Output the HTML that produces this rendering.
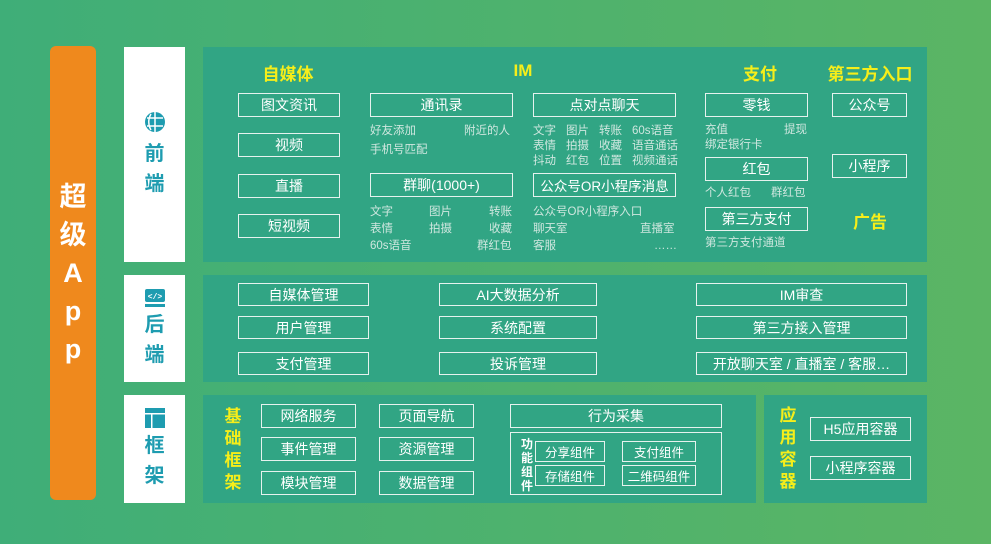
<!DOCTYPE html>
<html><head><meta charset="utf-8"><style>
*{margin:0;padding:0;box-sizing:border-box}
body{width:991px;height:544px;overflow:hidden;position:relative;background:linear-gradient(90deg,#3fae78,#5bb564);font-family:"Liberation Sans","Noto Sans CJK SC",sans-serif;}
.a{position:absolute}
.p{position:absolute;background:#31a584}
.b{position:absolute;border:1.5px solid #e6f2ee;color:#fff;font-size:14px;display:flex;align-items:center;justify-content:center;white-space:nowrap}
.s{position:absolute;color:#cfe7df;font-size:11.5px;white-space:nowrap;line-height:14px}
.y{position:absolute;color:#f6ee1a;font-size:17px;font-weight:bold;white-space:nowrap;transform:translateX(-50%)}
.w{position:absolute;background:#fff;left:124px;width:61px;display:flex;flex-direction:column;align-items:center;justify-content:center;color:#1e9cb0;font-size:20px;font-weight:bold;line-height:30px}
.v{position:absolute;color:#f6ee1a;font-size:17px;font-weight:bold;width:20px;text-align:center;line-height:22px}
</style></head><body>
<div class="a" style="left:50px;top:46px;width:46px;height:454px;background:#ef891d;border-radius:6px;color:#fff;font-size:27px;font-weight:bold;display:flex;flex-direction:column;align-items:center;justify-content:center;line-height:38px"><div>超</div><div>级</div><div>A</div><div>p</div><div>p</div></div>
<div class="w" style="top:47px;height:215px"><svg width="22" height="22" viewBox="0 0 22 22" style="margin-bottom:6px"><circle cx="11" cy="11" r="10" fill="#1e9cb0"/><path d="M11 1v20M3 7h16M3 15h16M7 3c-3 5-3 11 0 16" stroke="#fff" stroke-width="1.5" fill="none"/></svg><div>前</div><div>端</div></div>
<div class="w" style="top:275px;height:107px"><svg width="22" height="20" viewBox="0 0 22 20" style="margin-bottom:2px"><rect x="1" y="1" width="20" height="13" rx="2" fill="#1e9cb0"/><rect x="1" y="16" width="20" height="3" fill="#1e9cb0"/><text x="11" y="11" font-size="8" fill="#fff" text-anchor="middle" font-family="Liberation Mono">&lt;/&gt;</text></svg><div>后</div><div>端</div></div>
<div class="w" style="top:395px;height:108px"><svg width="22" height="22" viewBox="0 0 22 22" style="margin-bottom:2px"><rect x="1" y="1" width="20" height="20" fill="#1e9cb0"/><rect x="1" y="6" width="20" height="1.5" fill="#fff"/><rect x="7" y="6" width="1.5" height="15" fill="#fff"/></svg><div>框</div><div>架</div></div>

<div class="p" style="left:203px;top:47px;width:724px;height:215px"></div>
<div class="p" style="left:203px;top:275px;width:724px;height:107px"></div>
<div class="p" style="left:203px;top:395px;width:553px;height:108px"></div>
<div class="p" style="left:764px;top:395px;width:163px;height:108px"></div>

<div class="y" style="left:288px;top:60px">自媒体</div>
<div class="y" style="left:523px;top:61px">IM</div>
<div class="y" style="left:760px;top:60px">支付</div>
<div class="y" style="left:870px;top:60px">第三方入口</div>
<div class="y" style="left:870px;top:208px">广告</div>

<div class="b" style="left:238px;top:93px;width:102px;height:24px">图文资讯</div>
<div class="b" style="left:238px;top:133px;width:102px;height:24px">视频</div>
<div class="b" style="left:238px;top:174px;width:102px;height:24px">直播</div>
<div class="b" style="left:238px;top:214px;width:102px;height:24px">短视频</div>

<div class="b" style="left:370px;top:93px;width:143px;height:24px">通讯录</div>
<div class="s" style="left:370px;top:124px">好友添加</div><div class="s" style="left:464px;top:124px">附近的人</div>
<div class="s" style="left:370px;top:143px">手机号匹配</div>
<div class="b" style="left:370px;top:173px;width:143px;height:24px">群聊(1000+)</div>
<div class="s" style="left:370px;top:205px">文字</div><div class="s" style="left:429px;top:205px">图片</div><div class="s" style="left:489px;top:205px">转账</div>
<div class="s" style="left:370px;top:222px">表情</div><div class="s" style="left:429px;top:222px">拍摄</div><div class="s" style="left:489px;top:222px">收藏</div>
<div class="s" style="left:370px;top:239px">60s语音</div><div class="s" style="left:477px;top:239px">群红包</div>

<div class="b" style="left:533px;top:93px;width:143px;height:24px">点对点聊天</div>
<div class="s" style="left:533px;top:124px">文字</div><div class="s" style="left:566px;top:124px">图片</div><div class="s" style="left:599px;top:124px">转账</div><div class="s" style="left:632px;top:124px">60s语音</div>
<div class="s" style="left:533px;top:139px">表情</div><div class="s" style="left:566px;top:139px">拍摄</div><div class="s" style="left:599px;top:139px">收藏</div><div class="s" style="left:632px;top:139px">语音通话</div>
<div class="s" style="left:533px;top:154px">抖动</div><div class="s" style="left:566px;top:154px">红包</div><div class="s" style="left:599px;top:154px">位置</div><div class="s" style="left:632px;top:154px">视频通话</div>
<div class="b" style="left:533px;top:173px;width:143px;height:24px;font-size:13.5px">公众号OR小程序消息</div>
<div class="s" style="left:533px;top:205px">公众号OR小程序入口</div>
<div class="s" style="left:533px;top:222px">聊天室</div><div class="s" style="left:640px;top:222px">直播室</div>
<div class="s" style="left:533px;top:239px">客服</div><div class="s" style="left:654px;top:239px">……</div>

<div class="b" style="left:705px;top:93px;width:103px;height:24px">零钱</div>
<div class="s" style="left:705px;top:123px">充值</div><div class="s" style="left:784px;top:123px">提现</div>
<div class="s" style="left:705px;top:138px">绑定银行卡</div>
<div class="b" style="left:705px;top:157px;width:103px;height:24px">红包</div>
<div class="s" style="left:705px;top:186px">个人红包</div><div class="s" style="left:771px;top:186px">群红包</div>
<div class="b" style="left:705px;top:207px;width:103px;height:24px">第三方支付</div>
<div class="s" style="left:705px;top:236px">第三方支付通道</div>

<div class="b" style="left:832px;top:93px;width:75px;height:24px">公众号</div>
<div class="b" style="left:832px;top:154px;width:75px;height:24px">小程序</div>

<div class="b" style="left:238px;top:283px;width:131px;height:23px">自媒体管理</div>
<div class="b" style="left:238px;top:316px;width:131px;height:23px">用户管理</div>
<div class="b" style="left:238px;top:352px;width:131px;height:23px">支付管理</div>
<div class="b" style="left:439px;top:283px;width:158px;height:23px">AI大数据分析</div>
<div class="b" style="left:439px;top:316px;width:158px;height:23px">系统配置</div>
<div class="b" style="left:439px;top:352px;width:158px;height:23px">投诉管理</div>
<div class="b" style="left:696px;top:283px;width:211px;height:23px">IM审查</div>
<div class="b" style="left:696px;top:316px;width:211px;height:23px">第三方接入管理</div>
<div class="b" style="left:696px;top:352px;width:211px;height:23px">开放聊天室 / 直播室 / 客服…</div>

<div class="v" style="left:223px;top:406px">基<br>础<br>框<br>架</div>
<div class="b" style="left:261px;top:404px;width:95px;height:24px">网络服务</div>
<div class="b" style="left:261px;top:437px;width:95px;height:24px">事件管理</div>
<div class="b" style="left:261px;top:471px;width:95px;height:24px">模块管理</div>
<div class="b" style="left:379px;top:404px;width:95px;height:24px">页面导航</div>
<div class="b" style="left:379px;top:437px;width:95px;height:24px">资源管理</div>
<div class="b" style="left:379px;top:471px;width:95px;height:24px">数据管理</div>
<div class="b" style="left:510px;top:404px;width:212px;height:24px">行为采集</div>
<div class="b" style="left:510px;top:432px;width:212px;height:63px"></div>
<div class="a" style="left:520px;top:437px;width:14px;color:#fff;font-size:12px;font-weight:bold;line-height:14px;text-align:center">功<br>能<br>组<br>件</div>
<div class="b" style="left:535px;top:441px;width:70px;height:21px;font-size:12.5px">分享组件</div>
<div class="b" style="left:535px;top:465px;width:70px;height:21px;font-size:12.5px">存储组件</div>
<div class="b" style="left:622px;top:441px;width:74px;height:21px;font-size:12.5px">支付组件</div>
<div class="b" style="left:622px;top:465px;width:74px;height:21px;font-size:12.5px">二维码组件</div>

<div class="v" style="left:778px;top:405px">应<br>用<br>容<br>器</div>
<div class="b" style="left:810px;top:417px;width:101px;height:24px">H5应用容器</div>
<div class="b" style="left:810px;top:456px;width:101px;height:24px">小程序容器</div>
</body></html>
